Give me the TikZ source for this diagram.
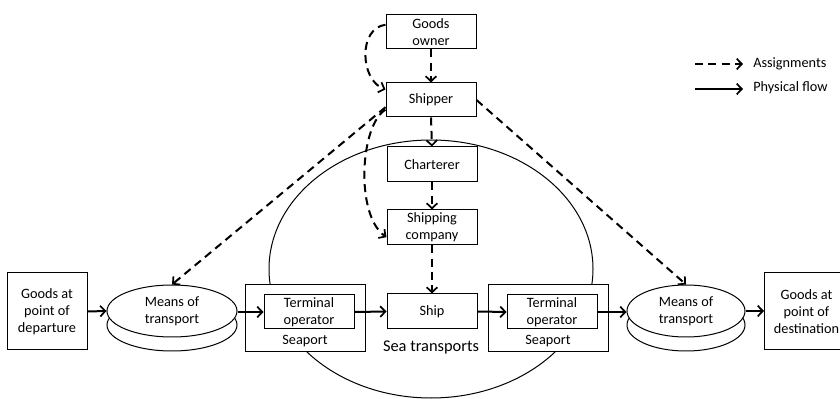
\documentclass[tikz,border=0pt]{standalone}
\usepackage{fontspec}
\setmainfont{Carlito}
\usetikzlibrary{arrows.meta,shapes.geometric}
\begin{document}
\begin{tikzpicture}[x=0.75pt,y=-0.75pt,
  txt/.style={font=\fontsize{10.7}{12.75}\selectfont,align=center,inner sep=0pt},
  box/.style={txt,draw,line width=0.75pt,fill=white,minimum width=67.5pt,minimum height=25.5pt},
  portbox/.style={draw,line width=0.75pt,fill=white,minimum width=90pt,minimum height=50.25pt,inner sep=0pt},
  endbox/.style={txt,draw,line width=0.75pt,fill=white,minimum width=60pt,minimum height=57.75pt},
  mot/.style={txt,ellipse,draw,line width=0.75pt,fill=white,minimum height=39pt},
  tip/.style={-{Straight Barb[length=3.8pt,width=8pt,line width=1.3pt]}},
  flow/.style={tip,line width=1.5pt},
  assign/.style={tip,line width=1.5pt,dash pattern=on 6pt off 4pt}]
\useasboundingbox (0,0) rectangle (840,399);

% big sea transport ellipse
\node[ellipse,draw,line width=0.75pt,minimum width=243pt,minimum height=193.5pt,inner sep=0pt] (sea) at (431,269) {};

% lower layers of means of transport
\node[mot,minimum width=97.5pt] (motLb) at (172,325) {};
\node[mot,minimum width=88.5pt] (motRb) at (686,325) {};

% boxes
\node[box] (owner) at (431,32) {Goods\\owner};
\node[box] (shipper) at (431,100) {Shipper};
\node[box,minimum height=26.25pt] (charterer) at (432,164.5) {Charterer};
\node[box,minimum height=26.25pt] (shipco) at (432,227.5) {Shipping\\company};
\node[box,minimum height=26.25pt] (ship) at (432,311.5) {Ship};

\node[portbox] (portL) at (305,318.5) {};
\node[box] (termL) at (309,312) {Terminal\\operator};
\node[txt] (portLt) at (305,341) {Seaport};

\node[portbox] (portR) at (548,318.5) {};
\node[box] (termR) at (552,312) {Terminal\\operator};
\node[txt] (portRt) at (548,341) {Seaport};

\node[txt,font=\fontsize{12.3}{14}\selectfont] (seat) at (431,348) {Sea transports};

\node[endbox] (dep) at (47,311.5) {Goods at\\point of\\departure};
\node[endbox,minimum width=63pt,anchor=west] (dest) at (764,311.5) {Goods at\\point of\\destination};

\node[mot,minimum width=97.5pt] (motL) at (172,311) {Means of\\transport};
\node[mot,minimum width=88.5pt] (motR) at (686,311) {Means of\\transport};

% physical flow
\draw[flow] (dep.east) -- (motL.west);
\draw[flow] (termL.west -| motL.east) -- (termL.west);
\draw[flow] (termL.east) -- (ship.west);
\draw[flow] (ship.east) -- (termR.west);
\draw[flow] (termR.east) -- (termR.east -| motR.west);
\draw[flow] (motR.east) -- (motR.east -| dest.west);

% assignments
\draw[assign] (owner.south) -- (shipper.north);
\draw[assign] (shipper.south) -- (charterer.north);
\draw[assign] (charterer.south) -- (shipco.north);
\draw[assign] (shipco.south) -- (ship.north);
\draw[assign] (owner.171) .. controls (358,28) and (360,80) .. (shipper.167);
\draw[assign] (shipper.192) .. controls (360,125) and (355,215) .. (shipco.192);
\draw[assign] (shipper.189) -- (motL.north);
\draw[assign] (shipper.east) -- (motR.north);

% legend
\coordinate (la1) at (695,64);
\coordinate (la2) at (743,64);
\coordinate (lp1) at (695,89);
\coordinate (lp2) at (743,89);
\draw[assign] (la1) -- (la2);
\draw[flow] (lp1) -- (lp2);
\node[txt,anchor=west] (lat) at (753,64) {Assignments};
\node[txt,anchor=west] (lpt) at (753,88) {Physical flow};
\end{tikzpicture}
\end{document}
